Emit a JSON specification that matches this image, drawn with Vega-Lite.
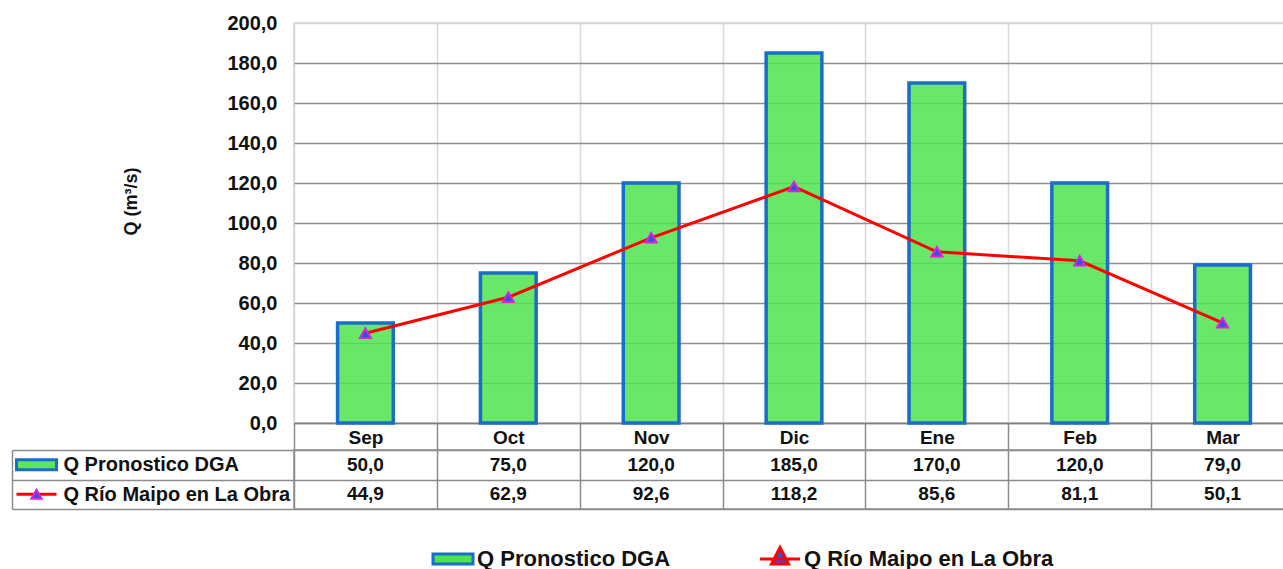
{
  "$schema": "https://vega.github.io/schema/vega-lite/v6.json",
  "background": "white",
  "padding": {"left": 10, "top": 12, "right": 0, "bottom": 0},
  "autosize": {"type": "pad"},
  "datasets": {
    "d": [
      {"month": "Sep", "series": "Q Pronostico DGA", "value": 50.0},
      {"month": "Oct", "series": "Q Pronostico DGA", "value": 75.0},
      {"month": "Nov", "series": "Q Pronostico DGA", "value": 120.0},
      {"month": "Dic", "series": "Q Pronostico DGA", "value": 185.0},
      {"month": "Ene", "series": "Q Pronostico DGA", "value": 170.0},
      {"month": "Feb", "series": "Q Pronostico DGA", "value": 120.0},
      {"month": "Mar", "series": "Q Pronostico DGA", "value": 79.0},
      {"month": "Sep", "series": "Q Río Maipo en La Obra", "value": 44.9},
      {"month": "Oct", "series": "Q Río Maipo en La Obra", "value": 62.9},
      {"month": "Nov", "series": "Q Río Maipo en La Obra", "value": 92.6},
      {"month": "Dic", "series": "Q Río Maipo en La Obra", "value": 118.2},
      {"month": "Ene", "series": "Q Río Maipo en La Obra", "value": 85.6},
      {"month": "Feb", "series": "Q Río Maipo en La Obra", "value": 81.1},
      {"month": "Mar", "series": "Q Río Maipo en La Obra", "value": 50.1}
    ],
    "s": [
      {"series": "Q Pronostico DGA"},
      {"series": "Q Río Maipo en La Obra"}
    ]
  },
  "columns": 3,
  "spacing": {"row": 27, "column": 0},
  "bounds": "flush",
  "resolve": {"scale": {"x": "independent", "y": "independent"}},
  "concat": [
    {
      "width": 49, "height": 400,
      "view": {"stroke": null},
      "data": {"values": []},
      "mark": "point"
    },
    {
      "width": 233, "height": 400,
      "view": {"stroke": null},
      "data": {"values": []},
      "mark": "point"
    },
    {
      "width": 1000, "height": 400,
      "view": {"stroke": "#d4d4d4", "strokeWidth": 1.5},
      "data": {"name": "d"},
      "encoding": {
        "x": {
          "field": "month", "type": "nominal",
          "sort": ["Sep", "Oct", "Nov", "Dic", "Ene", "Feb", "Mar"],
          "scale": {"paddingInner": 0, "paddingOuter": 0},
          "axis": {
            "title": null, "labelAngle": 0, "labelFontSize": 19, "labelFontWeight": "bold",
            "labelColor": "#111111", "labelBaseline": "middle", "labelPadding": -13,
            "ticks": true, "tickBand": "extent", "tickSize": 27, "tickColor": "#8c8c8c", "tickWidth": 1.5,
            "domain": true, "domainColor": "#7f7f7f", "domainWidth": 1.5,
            "grid": true, "gridColor": "#d9d9d9", "gridWidth": 1.5
          }
        },
        "y": {
          "field": "value", "type": "quantitative",
          "scale": {"domain": [0, 200], "nice": false},
          "axis": {
            "values": [0, 20, 40, 60, 80, 100, 120, 140, 160, 180, 200],
            "tickCount": 12, "labelOverlap": false,
            "format": ".1f", "labelFontSize": 20, "labelFontWeight": "bold", "labelColor": "#111111",
            "labelPadding": 17, "ticks": false, "domain": false,
            "grid": true,
            "gridColor": {"condition": {"test": "datum.value >= 200", "value": "#d4d4d4"}, "value": "#8f8f8f"},
            "gridWidth": 1.5,
            "title": "Q (m³/s)", "titleFontSize": 18, "titleFontWeight": "bold", "titleColor": "#111111",
            "titlePadding": 86, "titleY": 178
          }
        }
      },
      "layer": [
        {
          "transform": [{"filter": "datum.series === 'Q Pronostico DGA'"}],
          "mark": {"type": "bar", "width": {"band": 0.39}, "stroke": "#1a6dc8", "strokeWidth": 3.5, "fillOpacity": 0.85},
          "encoding": {
            "fill": {
              "field": "series", "type": "nominal",
              "scale": {"domain": ["Q Pronostico DGA", "Q Río Maipo en La Obra"], "range": ["#4de34d", "#2a55d8"]},
              "legend": {
                "title": null, "orient": "none", "direction": "horizontal",
                "legendX": 430, "legendY": 525,
                "symbolSize": 100, "symbolStrokeWidth": 3, "symbolOpacity": 1,
                "labelFontSize": 22, "labelFontWeight": "bold", "labelColor": "#111111",
                "labelOffset": 13, "columnPadding": 83, "padding": 0, "labelLimit": 400
              }
            }
          }
        },
        {
          "transform": [{"filter": "datum.series === 'Q Río Maipo en La Obra'"}],
          "mark": {"type": "line", "color": "#ff0000", "strokeWidth": 3}
        },
        {
          "transform": [{"filter": "datum.series === 'Q Río Maipo en La Obra'"}],
          "mark": {"type": "point", "shape": "triangle-up", "filled": true, "fill": "#2a55d8", "stroke": "#e01ee0", "strokeWidth": 2, "size": 120, "opacity": 1}
        },
        {
          "transform": [{"filter": "false"}],
          "mark": {"type": "point", "filled": true, "opacity": 1, "strokeWidth": 3},
          "encoding": {
            "fill": {
              "field": "series", "type": "nominal",
              "scale": {"domain": ["Q Pronostico DGA", "Q Río Maipo en La Obra"], "range": ["#4de34d", "#2a55d8"]},
              "legend": {
                "title": null, "orient": "none", "direction": "horizontal",
                "legendX": 430, "legendY": 525,
                "symbolSize": 100, "symbolStrokeWidth": 3, "symbolOpacity": 1,
                "labelFontSize": 22, "labelFontWeight": "bold", "labelColor": "#111111",
                "labelOffset": 13, "columnPadding": 83, "padding": 0, "labelLimit": 400
              }
            },
            "stroke": {
              "field": "series", "type": "nominal",
              "scale": {"domain": ["Q Pronostico DGA", "Q Río Maipo en La Obra"], "range": ["#1a6dc8", "#ff0000"]},
              "legend": {
                "title": null, "orient": "none", "direction": "horizontal",
                "legendX": 430, "legendY": 525,
                "symbolSize": 100, "symbolStrokeWidth": 3, "symbolOpacity": 1,
                "labelFontSize": 22, "labelFontWeight": "bold", "labelColor": "#111111",
                "labelOffset": 13, "columnPadding": 83, "padding": 0, "labelLimit": 400
              }
            },
            "shape": {
              "field": "series", "type": "nominal",
              "scale": {"domain": ["Q Pronostico DGA", "Q Río Maipo en La Obra"], "range": ["M-4,-1H4V1H-4Z", "M-4,0H4M0,-2.3L1.7,1H-1.7Z"]},
              "legend": {
                "title": null, "orient": "none", "direction": "horizontal",
                "legendX": 430, "legendY": 525,
                "symbolSize": 100, "symbolStrokeWidth": 3, "symbolOpacity": 1,
                "labelFontSize": 22, "labelFontWeight": "bold", "labelColor": "#111111",
                "labelOffset": 13, "columnPadding": 83, "padding": 0, "labelLimit": 400
              }
            }
          }
        }
      ]
    },
    {
      "width": 49, "height": 59,
      "view": {"stroke": null},
      "data": {"name": "s"},
      "encoding": {
        "y": {
          "field": "series", "type": "nominal",
          "sort": ["Q Pronostico DGA", "Q Río Maipo en La Obra"],
          "scale": {"paddingInner": 0, "paddingOuter": 0},
          "axis": {
            "title": null, "labels": false, "ticks": false,
            "domain": true, "domainColor": "#8c8c8c", "domainWidth": 1.5,
            "grid": true, "tickBand": "extent", "gridColor": "#8c8c8c", "gridWidth": 1.5
          }
        }
      },
      "layer": [
        {
          "transform": [{"filter": "datum.series === 'Q Pronostico DGA'"}],
          "mark": {"type": "point", "shape": "M-1,-0.25H1V0.25H-1Z", "size": 1600, "filled": true, "fill": "#5ce65c", "stroke": "#1a6dc8", "strokeWidth": 3, "opacity": 1}
        },
        {
          "transform": [{"filter": "datum.series === 'Q Río Maipo en La Obra'"}],
          "mark": {"type": "point", "shape": "M-1,0H1", "size": 1600, "filled": false, "stroke": "#ff0000", "strokeWidth": 3, "opacity": 1}
        },
        {
          "transform": [{"filter": "datum.series === 'Q Río Maipo en La Obra'"}],
          "mark": {"type": "point", "shape": "triangle-up", "size": 110, "filled": true, "fill": "#2a55d8", "stroke": "#e01ee0", "strokeWidth": 2, "opacity": 1}
        }
      ]
    },
    {
      "width": 233, "height": 59,
      "view": {"stroke": null},
      "data": {"name": "s"},
      "mark": {"type": "text", "opacity": 0},
      "encoding": {
        "y": {
          "field": "series", "type": "nominal",
          "sort": ["Q Pronostico DGA", "Q Río Maipo en La Obra"],
          "scale": {"paddingInner": 0, "paddingOuter": 0},
          "axis": {
            "title": null, "labels": true, "labelAlign": "left", "labelPadding": -2,
            "labelFontSize": 20, "labelFontWeight": "bold", "labelColor": "#111111", "labelLimit": 300,
            "ticks": false, "domain": false,
            "grid": true, "tickBand": "extent", "gridColor": "#8c8c8c", "gridWidth": 1.5
          }
        },
        "text": {"field": "series", "type": "nominal"}
      }
    },
    {
      "width": 1000, "height": 59,
      "view": {"stroke": "#8c8c8c", "strokeWidth": 1.5},
      "data": {"name": "d"},
      "mark": {"type": "text", "fontSize": 19, "fontWeight": "bold", "color": "#111111"},
      "encoding": {
        "x": {
          "field": "month", "type": "nominal",
          "sort": ["Sep", "Oct", "Nov", "Dic", "Ene", "Feb", "Mar"],
          "scale": {"paddingInner": 0, "paddingOuter": 0},
          "axis": {
            "title": null, "labels": false, "ticks": false, "domain": false,
            "grid": true, "tickBand": "extent", "gridColor": "#8c8c8c", "gridWidth": 1.5
          }
        },
        "y": {
          "field": "series", "type": "nominal",
          "sort": ["Q Pronostico DGA", "Q Río Maipo en La Obra"],
          "scale": {"paddingInner": 0, "paddingOuter": 0},
          "axis": {
            "title": null, "labels": false, "ticks": false, "domain": false,
            "grid": true, "tickBand": "extent", "gridColor": "#8c8c8c", "gridWidth": 1.5
          }
        },
        "text": {"field": "value", "type": "quantitative", "format": ".1f"}
      }
    }
  ],
  "config": {
    "font": "Liberation Sans",
    "locale": {"number": {"decimal": ",", "thousands": ".", "grouping": [3], "currency": ["$", ""]}},
    "view": {"stroke": null}
  }
}
